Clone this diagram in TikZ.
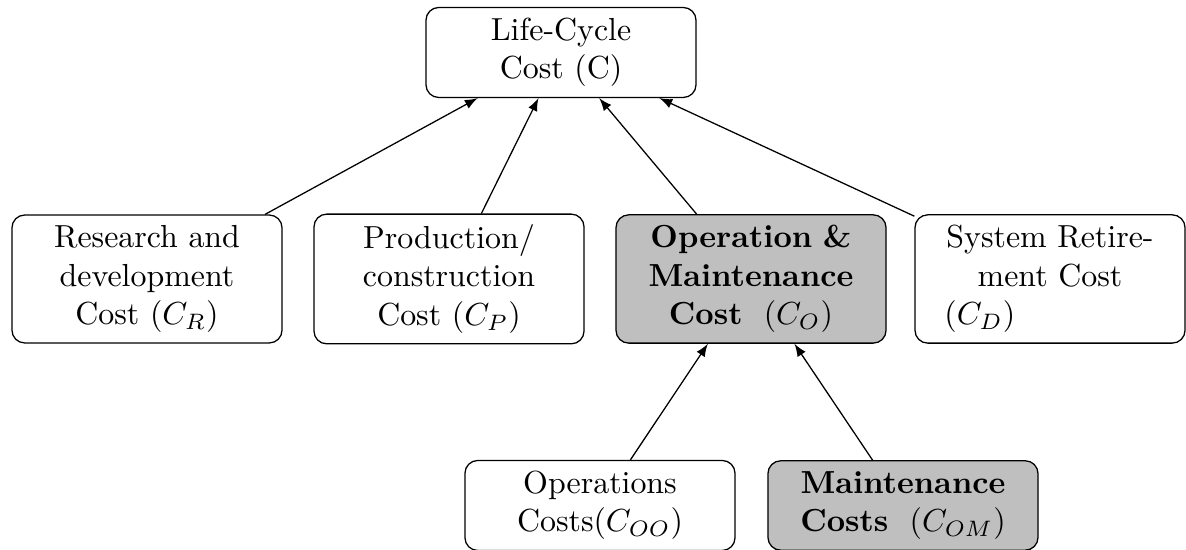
\documentclass[tikz,border=0pt]{standalone}
\usetikzlibrary{arrows}
\begin{document}
\begin{tikzpicture}[x=0.3135pt, y=-0.3135pt,
  box/.style={draw, rounded corners, align=center, text width=78pt},
  hl/.style={box, fill=gray!50},
  link/.style={-latex}]
\useasboundingbox (0,0) rectangle (1186,550);
\node[box] (lcc) at (561,52.5) {Life-Cycle\\Cost (C)};
\node[box] (rd) at (147,279) {Research and\\development\\Cost ($C_R$)};
\node[box] (pc) at (449,279) {Production/\\construction\\Cost ($C_P$)};
\node[hl] (om) at (751,279) {\textbf{Operation \&}\\\textbf{Maintenance}\\\textbf{Cost }\ ($C_O$)};
\node[box] (sr) at (1050,279) {System Retire-\\ment Cost\\\mbox{($C_D$)\hspace{44pt}}};
\node[box] (oc) at (600,505.5) {Operations\\Costs($C_{OO}$)};
\node[hl] (mc) at (903,505.5) {\textbf{Maintenance}\\\textbf{Costs }\ ($C_{OM}$)};
\draw[link] (rd) -- (lcc);
\draw[link] (pc) -- (lcc);
\draw[link] (om) -- (lcc);
\draw[link] (sr) -- (lcc);
\draw[link] (oc) -- (om);
\draw[link] (mc) -- (om);
\end{tikzpicture}
\end{document}
